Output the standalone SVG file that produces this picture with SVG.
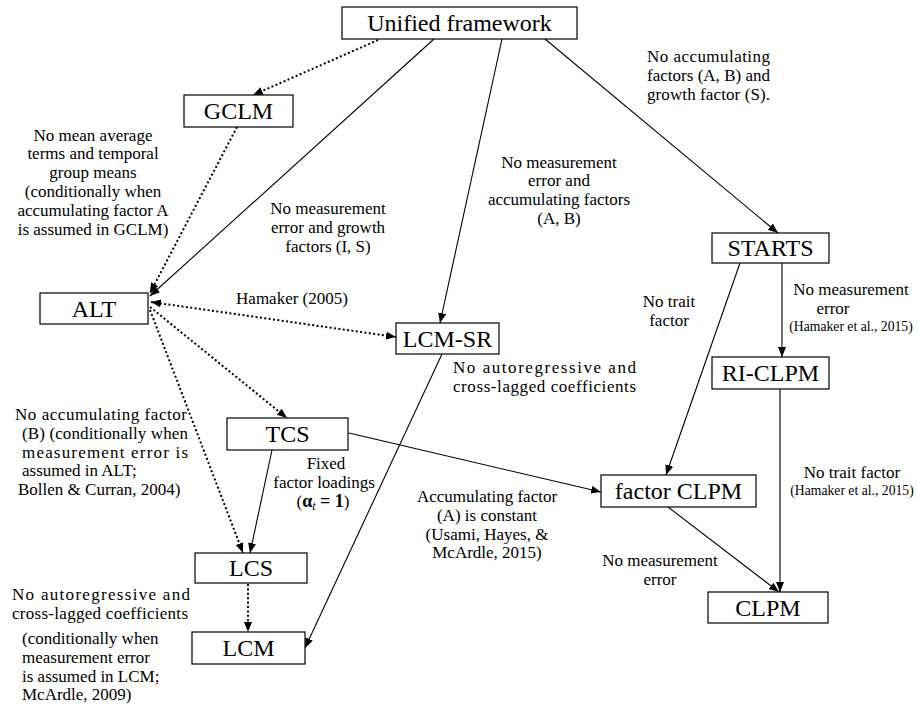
<svg xmlns="http://www.w3.org/2000/svg" width="917" height="704" viewBox="0 0 917 704" font-family="'Liberation Serif', 'Times New Roman', serif">
<style>
.box{fill:#fff;stroke:#000;stroke-width:1.2}
text{font-family:'Liberation Serif','Times New Roman',serif;fill:#000}
.nt{font-size:24px;text-anchor:middle}
.lb{font-size:17px}
.sm{font-size:13.7px}
.c{text-anchor:middle}
.solid{fill:none;stroke:#000;stroke-width:1.1;marker-end:url(#ah)}
.dot{fill:none;stroke:#000;stroke-width:2;stroke-dasharray:2 2.4;marker-end:url(#ah)}
</style>
<defs>
<marker id="ah" markerUnits="userSpaceOnUse" markerWidth="11" markerHeight="9" refX="10" refY="4" orient="auto-start-reverse">
<path d="M0,0 L10,4 L0,8 z" fill="#000"/>
</marker>
</defs>
<rect width="917" height="704" fill="#fff"/>
<g id="connectors">
<line class="dot" x1="378" y1="40" x2="253" y2="95"/>
<line class="dot" x1="237" y1="127" x2="150" y2="293"/>
<line class="solid" x1="434" y1="39" x2="150" y2="296"/>
<line class="solid" x1="502" y1="39" x2="440" y2="323"/>
<line class="solid" x1="545" y1="39" x2="778" y2="233"/>
<line class="dot" x1="151" y1="302" x2="396" y2="337" style="marker-start:url(#ah)"/>
<line class="dot" x1="150" y1="307" x2="287" y2="418"/>
<line class="dot" x1="150" y1="310" x2="243" y2="553"/>
<line class="solid" x1="272" y1="450" x2="250" y2="553"/>
<line class="dot" x1="248" y1="584" x2="248" y2="632"/>
<line class="solid" x1="442" y1="354" x2="305" y2="648"/>
<line class="solid" x1="349" y1="433" x2="601" y2="492"/>
<line class="solid" x1="740" y1="263" x2="666" y2="475"/>
<line class="solid" x1="782" y1="263" x2="782" y2="357"/>
<line class="solid" x1="780" y1="389" x2="780" y2="592"/>
<line class="solid" x1="668" y1="507" x2="779" y2="592"/>
</g>
<g id="unified"><rect class="box" x="342" y="7" width="235" height="32"/><text class="nt" x="459.5" y="31">Unified framework</text></g>
<g id="gclm"><rect class="box" x="184" y="95" width="109" height="32"/><text class="nt" x="238.5" y="119">GCLM</text></g>
<g id="alt"><rect class="box" x="40" y="293" width="108" height="31"/><text class="nt" x="94" y="316.5">ALT</text></g>
<g id="lcmsr"><rect class="box" x="396" y="323" width="103" height="31"/><text class="nt" x="447.5" y="346.5">LCM-SR</text></g>
<g id="starts"><rect class="box" x="712" y="233" width="117" height="30"/><text class="nt" x="770.5" y="256">STARTS</text></g>
<g id="riclpm"><rect class="box" x="712" y="357" width="117" height="32"/><text class="nt" x="770.5" y="381">RI-CLPM</text></g>
<g id="tcs"><rect class="box" x="227" y="418" width="121" height="32"/><text class="nt" x="287.5" y="442">TCS</text></g>
<g id="factorclpm"><rect class="box" x="601" y="475" width="155" height="32"/><text class="nt" x="678.5" y="499">factor CLPM</text></g>
<g id="lcs"><rect class="box" x="195" y="553" width="112" height="30"/><text class="nt" x="251" y="576">LCS</text></g>
<g id="lcm"><rect class="box" x="192" y="632" width="113" height="32"/><text class="nt" x="248.5" y="656">LCM</text></g>
<g id="clpm"><rect class="box" x="708" y="592" width="120" height="31"/><text class="nt" x="768" y="615.5">CLPM</text></g>
<g id="labels">
<text class="lb c"><tspan x="93" y="140.5">No mean average</tspan><tspan x="93" y="159.3">terms and temporal</tspan><tspan x="93" y="178.1">group means</tspan><tspan x="93" y="196.9">(conditionally when</tspan><tspan x="93" y="215.7">accumulating factor A</tspan><tspan x="93" y="234.5">is assumed in GCLM)</tspan></text>
<text class="lb c"><tspan x="328" y="214">No measurement</tspan><tspan x="328" y="232.8">error and growth</tspan><tspan x="328" y="251.6">factors (I, S)</tspan></text>
<text class="lb" x="647" y="62" textLength="123" lengthAdjust="spacing">No accumulating</text>
<text class="lb" x="647" y="80.8" textLength="123" lengthAdjust="spacing">factors (A, B) and</text>
<text class="lb" x="647" y="99.6" textLength="123" lengthAdjust="spacing">growth factor (S).</text>
<text class="lb c"><tspan x="559" y="167.5">No measurement</tspan><tspan x="559" y="186.3">error and</tspan><tspan x="559" y="205.1">accumulating factors</tspan><tspan x="559" y="223.9">(A, B)</tspan></text>
<text class="lb c" x="292" y="304">Hamaker (2005)</text>
<text class="lb" x="453" y="373" textLength="183" lengthAdjust="spacing">No autoregressive and</text>
<text class="lb" x="453" y="391.8" textLength="183" lengthAdjust="spacing">cross-lagged coefficients</text>
<text class="lb c"><tspan x="669" y="307">No trait</tspan><tspan x="669" y="325.8">factor</tspan></text>
<text class="lb c" x="851" y="295">No measurement</text>
<text class="lb c" x="833" y="313.8">error</text>
<text class="sm c" x="851" y="330.5">(Hamaker et al., 2015)</text>
<text class="lb c" x="852" y="478">No trait factor</text>
<text class="sm c" x="852" y="495">(Hamaker et al., 2015)</text>
<text class="lb" x="15" y="420" textLength="172" lengthAdjust="spacing">No accumulating factor</text>
<text class="lb" x="22" y="438.8" textLength="166" lengthAdjust="spacing">(B) (conditionally when</text>
<text class="lb" x="22" y="457.6" textLength="166" lengthAdjust="spacing">measurement error is</text>
<text class="lb" x="22" y="476.4">assumed in ALT;</text>
<text class="lb" x="18" y="495.2">Bollen &amp; Curran, 2004)</text>
<text class="lb c" x="326" y="469">Fixed</text>
<text class="lb c" x="324" y="487.8">factor loadings</text>
<text class="lb c" x="323" y="506.6">(<tspan font-weight="bold" font-size="18">α</tspan><tspan font-style="italic" font-size="12" dy="3">t</tspan><tspan dy="-3" font-size="18" font-weight="bold"> = 1</tspan>)</text>
<text class="lb c"><tspan x="487" y="502">Accumulating factor</tspan><tspan x="487" y="520.8">(A) is constant</tspan><tspan x="487" y="539.6">(Usami, Hayes, &amp;</tspan><tspan x="487" y="558.4">McArdle, 2015)</tspan></text>
<text class="lb c"><tspan x="660" y="566">No measurement</tspan><tspan x="660" y="584.8">error</tspan></text>
<text class="lb" x="12" y="600" textLength="178" lengthAdjust="spacing">No autoregressive and</text>
<text class="lb" x="12" y="618.8" textLength="176" lengthAdjust="spacing">cross-lagged coefficients</text>
<text class="lb" x="22" y="644">(conditionally when</text>
<text class="lb" x="22" y="662.8">measurement error</text>
<text class="lb" x="22" y="681.6">is assumed in LCM;</text>
<text class="lb" x="22" y="700.4">McArdle, 2009)</text>
</g>
</svg>
